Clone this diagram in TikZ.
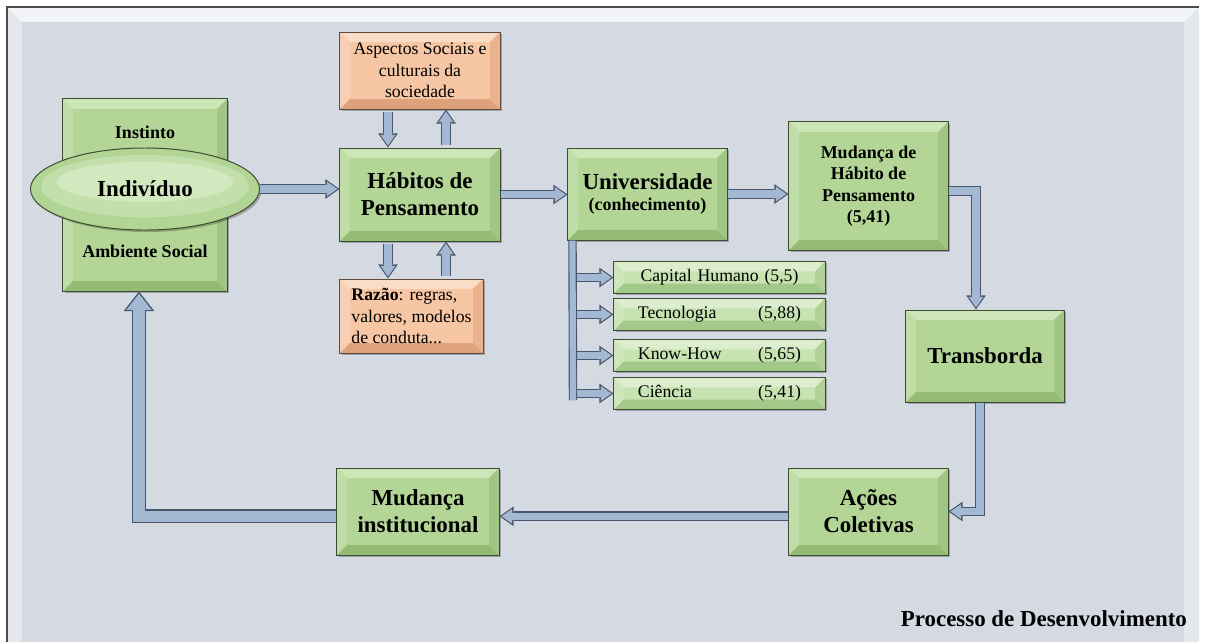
\documentclass[tikz,border=0pt]{standalone}
\usepackage{fontspec}
\setmainfont{Liberation Serif}
\usetikzlibrary{shapes.geometric,arrows.meta}

\definecolor{pnl}{HTML}{D5DAE2}
\definecolor{pnlhi}{HTML}{F3F4F7}
\definecolor{pnledge}{HTML}{E4E7EC}
\definecolor{grnln}{HTML}{3E4B33}
\definecolor{orgln}{HTML}{5E4A3E}
\definecolor{arrlt}{HTML}{A3B8D3}
\definecolor{arrdk}{HTML}{47566C}
% verde das caixas
\definecolor{gin}{HTML}{B3D696}
\definecolor{gtop}{HTML}{CDE6B8}
\definecolor{glft}{HTML}{BFDDA6}
\definecolor{gbot}{HTML}{93BB74}
\definecolor{grgt}{HTML}{A0C685}
% laranja
\definecolor{oin}{HTML}{F6C6A5}
\definecolor{otop}{HTML}{FBDCC7}
\definecolor{olft}{HTML}{F8CFB4}
\definecolor{obot}{HTML}{DDA27C}
\definecolor{orgt}{HTML}{E9B18C}
% sub-caixas
\definecolor{sin}{HTML}{C8E3B2}
\definecolor{stop}{HTML}{DDEECF}
\definecolor{slft}{HTML}{CFE6BC}
\definecolor{sbot}{HTML}{A3C98A}
\definecolor{srgt}{HTML}{B0D197}
% elipse
\definecolor{eout}{HTML}{B1D594}
\definecolor{emid}{HTML}{C3E0AC}
\definecolor{ein}{HTML}{D2E9C0}

\begin{document}
\begin{tikzpicture}[
  x=0.025cm, y=-0.025cm,
  every node/.style={font=\fontsize{12.6}{15.3}\selectfont, align=center, inner sep=2pt},
  big/.style={font=\fontsize{16.3}{19.3}\selectfont\bfseries},
  mid/.style={font=\fontsize{12.8}{15.3}\selectfont\bfseries},
  shadowed/.style={preaction={fill=black, opacity=0.25, transform canvas={xshift=1.4pt, yshift=-1.4pt}}},
  bev/.style n args={5}{fill=#1, line width=0.7pt, shadowed, path picture={
    \fill[#2] (path picture bounding box.north west) -- (path picture bounding box.north east)
      -- ([shift={(-7pt,-7pt)}]path picture bounding box.north east)
      -- ([shift={(7pt,-7pt)}]path picture bounding box.north west) -- cycle;
    \fill[#3] (path picture bounding box.north west) -- ([shift={(7pt,-7pt)}]path picture bounding box.north west)
      -- ([shift={(7pt,7pt)}]path picture bounding box.south west) -- (path picture bounding box.south west) -- cycle;
    \fill[#4] (path picture bounding box.south west) -- (path picture bounding box.south east)
      -- ([shift={(-7pt,7pt)}]path picture bounding box.south east)
      -- ([shift={(7pt,7pt)}]path picture bounding box.south west) -- cycle;
    \fill[#5] (path picture bounding box.north east) -- ([shift={(-7pt,-7pt)}]path picture bounding box.north east)
      -- ([shift={(-7pt,7pt)}]path picture bounding box.south east) -- (path picture bounding box.south east) -- cycle;
  }},
  gbox/.style={bev={gin}{gtop}{glft}{gbot}{grgt}, draw=grnln},
  obox/.style={bev={oin}{otop}{olft}{obot}{orgt}, draw=orgln, minimum width=4cm},
  sbox/.style={bev={sin}{stop}{slft}{sbot}{srgt}, draw=grnln, minimum width=5.275cm,
    minimum height=0.8cm, text width=4.075cm},
  oval/.style={ellipse, draw=grnln, line width=0.7pt, fill=eout, shadowed, path picture={
    \fill[emid] ([yshift=2pt]path picture bounding box.center) ellipse (2.6cm and 0.78cm);
    \fill[ein] ([yshift=5pt]path picture bounding box.center) ellipse (2.2cm and 0.5cm);
  }},
  fatar/.style={draw=arrlt, line width=5pt, line join=miter, shorten >=1.4pt,
    -{Triangle[length=7.5pt,width=10.5pt,line width=0pt]},
    preaction={draw=arrdk, line width=7pt, line join=miter, shorten >=0pt,
      -{Triangle[length=10pt,width=14pt,line width=0pt]}}},
  fatret/.style={draw=arrlt, line width=8pt, line join=miter, shorten >=1.6pt,
    -{Triangle[length=11.5pt,width=18pt,line width=0pt]},
    preaction={draw=arrdk, line width=10pt, line join=miter, shorten >=0pt,
      -{Triangle[length=14pt,width=22pt,line width=0pt]}}},
  fatbar/.style={draw=arrlt, line width=4.4pt,
    preaction={draw=arrdk, line width=6pt}}
]
\useasboundingbox[fill=white] (0,0) rectangle (1205,641);

% painel de fundo
\fill[pnledge] (7,7) rectangle (1199,645);
\fill[pnlhi] (7,7) -- (1199,7) -- (1184,22) -- (22,22) -- cycle;
\fill[pnl] (22,22) rectangle (1184,645);
\draw[gray!60!black, line width=0.8pt] (7,645) -- (7,7) -- (1199,7);

% individuo
\node[gbox, minimum width=4.1cm, minimum height=4.8cm] (ambiente) at (145,195) {};
\node[mid] (instinto) at (145,132) {Instinto};
\node[mid] (social) at (145,251) {Ambiente Social};
\node[oval, big, minimum width=5.725cm, minimum height=2.05cm] (indiv) at (145,189) {Indivíduo};

% habitos de pensamento
\node[gbox, big, minimum width=4cm, minimum height=2.325cm] (habitos) at (420,194.5) {Hábitos de\\Pensamento};
\node[obox, minimum height=1.925cm] (aspectos) at (420,70.5) {Aspectos Sociais e\\culturais da\\sociedade};
\node[obox, align=left, minimum width=3.575cm, minimum height=1.85cm] (razao) at (411.5,316) {\textbf{Razão}: regras,\\valores, modelos\\de conduta...};

% universidade
\node[gbox, mid, minimum width=3.975cm, minimum height=2.3cm] (univ) at (647.5,194) {{\fontsize{16.3}{19.3}\selectfont Universidade}\\(conhecimento)};
\node[sbox] (capital) at (719.5,277.5) {Capital Humano (5,5)};
\node[sbox] (tecno) at (719.5,314.5) {Tecnologia\hfill(5,88)};
\node[sbox] (know) at (719.5,355.5) {Know-How\hfill(5,65)};
\node[sbox] (ciencia) at (719.5,393.5) {Ciência\hfill(5,41)};
\coordinate (barend) at (573,400);

% lado direito e retorno
\node[gbox, mid, minimum width=3.975cm, minimum height=3.2cm] (mudhab) at (868.5,186) {Mudança de\\Hábito de\\Pensamento\\(5,41)};
\node[gbox, big, minimum width=3.95cm, minimum height=2.3cm] (transb) at (985,356) {Transborda};
\node[gbox, big, minimum width=3.975cm, minimum height=2.175cm] (acoes) at (868.5,511.5) {Ações\\Coletivas};
\node[gbox, big, minimum width=4.05cm, minimum height=2.175cm] (mudinst) at (418,511.5) {Mudança\\institucional};
\node[big, anchor=east] (processo) at (1190,619) {Processo de Desenvolvimento};

% setas
\draw[fatar] (indiv) -- (indiv -| habitos.west);
\draw[fatar] (habitos.east) -- (habitos.east -| univ.west);
\draw[fatar] (univ.east) -- (univ.east -| mudhab.west);
\draw[fatar, shorten <=2pt] ([xshift=-0.8cm]aspectos.south) -- ([xshift=-0.8cm]habitos.north);
\draw[fatar, shorten <=2pt] ([xshift=0.65cm]habitos.north) -- ([xshift=0.65cm]aspectos.south);
\draw[fatar, shorten <=2pt] ([xshift=-0.8cm]habitos.south) -- ([xshift=-0.8cm]habitos.south |- razao.north);
\draw[fatar, shorten <=2pt] ([xshift=0.65cm]habitos.south |- razao.north) -- ([xshift=0.65cm]habitos.south);
\foreach \s in {capital,tecno,know,ciencia}
  \draw[fatar] (barend |- \s.west) -- (\s.west);
\draw[fatbar] ([xshift=0.125cm]univ.south west) -- (barend);
\draw[fatar] ([yshift=-0.125cm]mudhab.east) -| ([xshift=-0.225cm]transb.north);
\draw[fatar] ([xshift=-0.125cm]transb.south) |- (acoes.east);
\draw[fatar] ([yshift=-0.12cm]acoes.west) -- ([yshift=-0.12cm]mudinst.east);
\draw[fatret] ([yshift=-0.12cm]mudinst.west) -| ([xshift=-0.15cm]ambiente.south);
\end{tikzpicture}
\end{document}
